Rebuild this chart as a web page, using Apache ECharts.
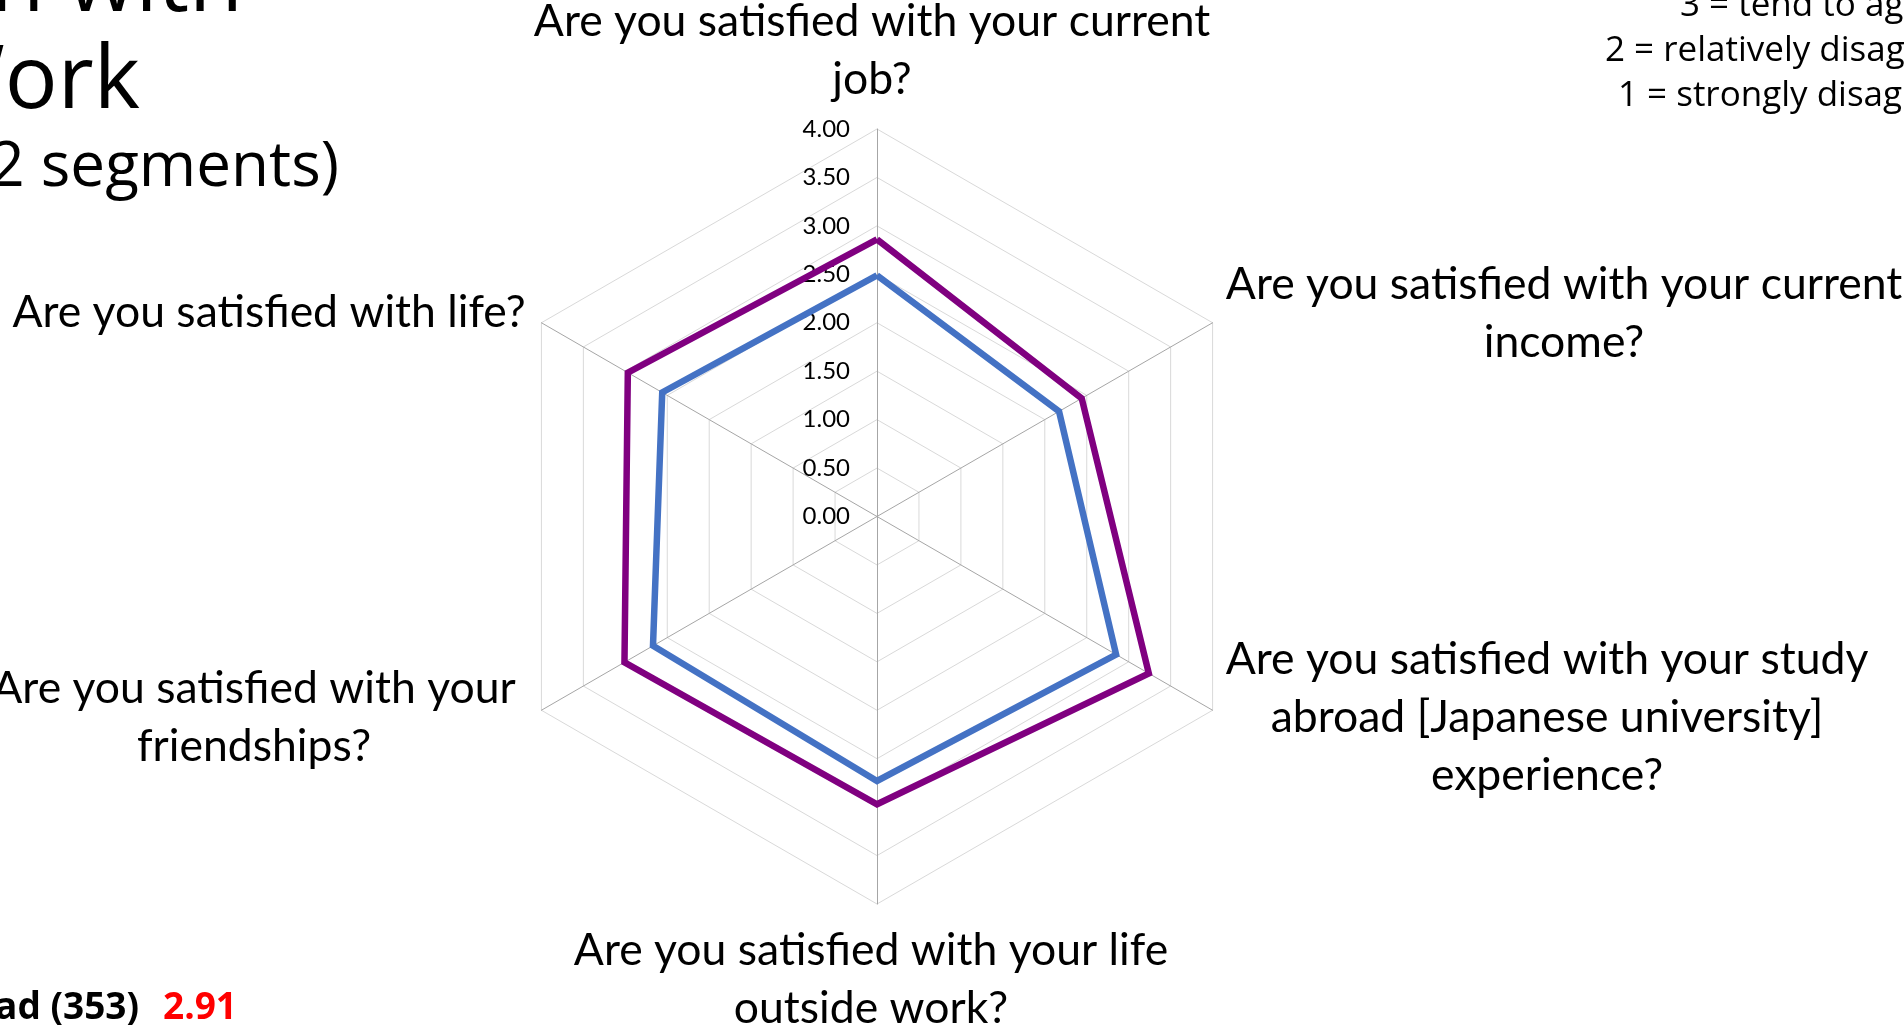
<!DOCTYPE html>
<html>
<head>
<meta charset="utf-8">
<title>Satisfaction radar</title>
<script src="https://cdn.jsdelivr.net/npm/echarts@6/dist/echarts.min.js"></script>
<style>
  html, body { margin: 0; padding: 0; background: #fff; }
  #main { width: 1904px; height: 1028px; }
</style>
</head>
<body>
<div id="main"></div>
<script>
// indicators in the order ECharts lays them out: top first, then counter-clockwise
const categories = [
  'Are you satisfied with your current\njob?',
  'Are you satisfied with life?',
  'Are you satisfied with your\nfriendships?',
  'Are you satisfied with your life\noutside work?',
  'Are you satisfied with your study\nabroad [Japanese university]\nexperience?',
  'Are you satisfied with your current\nincome?'
]
const studyAbroad = [2.86, 2.97, 3.01, 2.97, 3.24, 2.44]
const otherSegment = [2.49, 2.56, 2.67, 2.73, 2.85, 2.17]
const scaleMin = 0
const scaleMax = 4
const scaleStep = 0.5

const titleLines = ['Satisfaction with', 'Work', '(2 segments)']
const scaleNotes = ['3 = tend to agree', '2 = relatively disagree', '1 = strongly disagree']
const segmentName = 'Study abroad (353)'
const segmentAverage = '2.91'

// layout
const center = [877, 516.5]
const radius = 387.5
const labelPos = [[872, 51], [269, 313], [254, 718], [871, 980], [1547, 718], [1564, 314]]
const labelFont = 'Lato'
const slideFont = '"Open Sans"'

const chart = echarts.init(document.getElementById('main'))

const graphic = []
categories.forEach((name, i) => {
  graphic.push({
    type: 'text',
    x: labelPos[i][0],
    y: labelPos[i][1],
    style: {
      text: name,
      fontFamily: labelFont,
      fontSize: 44.5,
      lineHeight: 58,
      fill: '#000',
      align: 'center',
      verticalAlign: 'middle'
    }
  })
})

// slide title, cropped on the left
graphic.push(
  { type: 'text', x: 243, y: -14, style: { text: titleLines[0], fontFamily: slideFont, fontSize: 88, fill: '#000', align: 'right', verticalAlign: 'middle' } },
  { type: 'text', x: 140, y: 83, style: { text: titleLines[1], fontFamily: slideFont, fontSize: 88, fill: '#000', align: 'right', verticalAlign: 'middle' } },
  { type: 'text', x: 339, y: 168, style: { text: titleLines[2], fontFamily: slideFont, fontSize: 62, fill: '#000', align: 'right', verticalAlign: 'middle' } }
)

// scale notes, cropped on the right
const noteX = [1680, 1605, 1618]
scaleNotes.forEach((t, i) => {
  graphic.push({
    type: 'text', x: noteX[i], y: 6 + i * 45,
    style: { text: t, fontFamily: slideFont, fontSize: 35, fill: '#000', align: 'left', verticalAlign: 'middle' }
  })
})

// segment average, bottom left
graphic.push(
  { type: 'text', x: 139, y: 1008, style: { text: segmentName, fontFamily: slideFont, fontWeight: 'bold', fontSize: 37, fill: '#000', align: 'right', verticalAlign: 'middle' } },
  { type: 'text', x: 163, y: 1008, style: { text: segmentAverage, fontFamily: slideFont, fontWeight: 'bold', fontSize: 37, fill: '#ff0000', align: 'left', verticalAlign: 'middle' } }
)

chart.setOption({
  animation: false,
  backgroundColor: '#fff',
  radar: {
    center: center,
    radius: radius,
    startAngle: 90,
    shape: 'polygon',
    splitNumber: (scaleMax - scaleMin) / scaleStep,
    indicator: categories.map(name => ({ name, min: scaleMin, max: scaleMax })),
    axisName: { show: false },
    axisLine: { lineStyle: { color: '#a6a6a6', width: 1 } },
    splitLine: { lineStyle: { color: '#d9d9d9', width: 1 } },
    splitArea: { show: false },
    axisTick: { show: false },
    axisLabel: { show: false }
  },
  // value labels along the top spoke
  grid: { left: center[0], top: center[1] - radius, width: 1, height: radius },
  xAxis: { type: 'value', show: false },
  yAxis: {
    type: 'value',
    min: scaleMin,
    max: scaleMax,
    interval: scaleStep,
    axisLine: { show: false },
    axisTick: { show: false },
    splitLine: { show: false },
    axisLabel: {
      formatter: v => v.toFixed(2),
      fontFamily: labelFont,
      fontSize: 24,
      color: '#000',
      margin: 27
    }
  },
  graphic: graphic,
  series: [{
    type: 'radar',
    symbol: 'none',
    z: 5,
    data: [
      {
        name: 'Other',
        value: otherSegment,
        itemStyle: { color: '#4472c4' },
        lineStyle: { color: '#4472c4', width: 6.5, join: 'miter' }
      },
      {
        name: segmentName,
        value: studyAbroad,
        itemStyle: { color: '#800080' },
        lineStyle: { color: '#800080', width: 6.5, join: 'miter' }
      }
    ]
  }]
})
</script>
</body>
</html>
